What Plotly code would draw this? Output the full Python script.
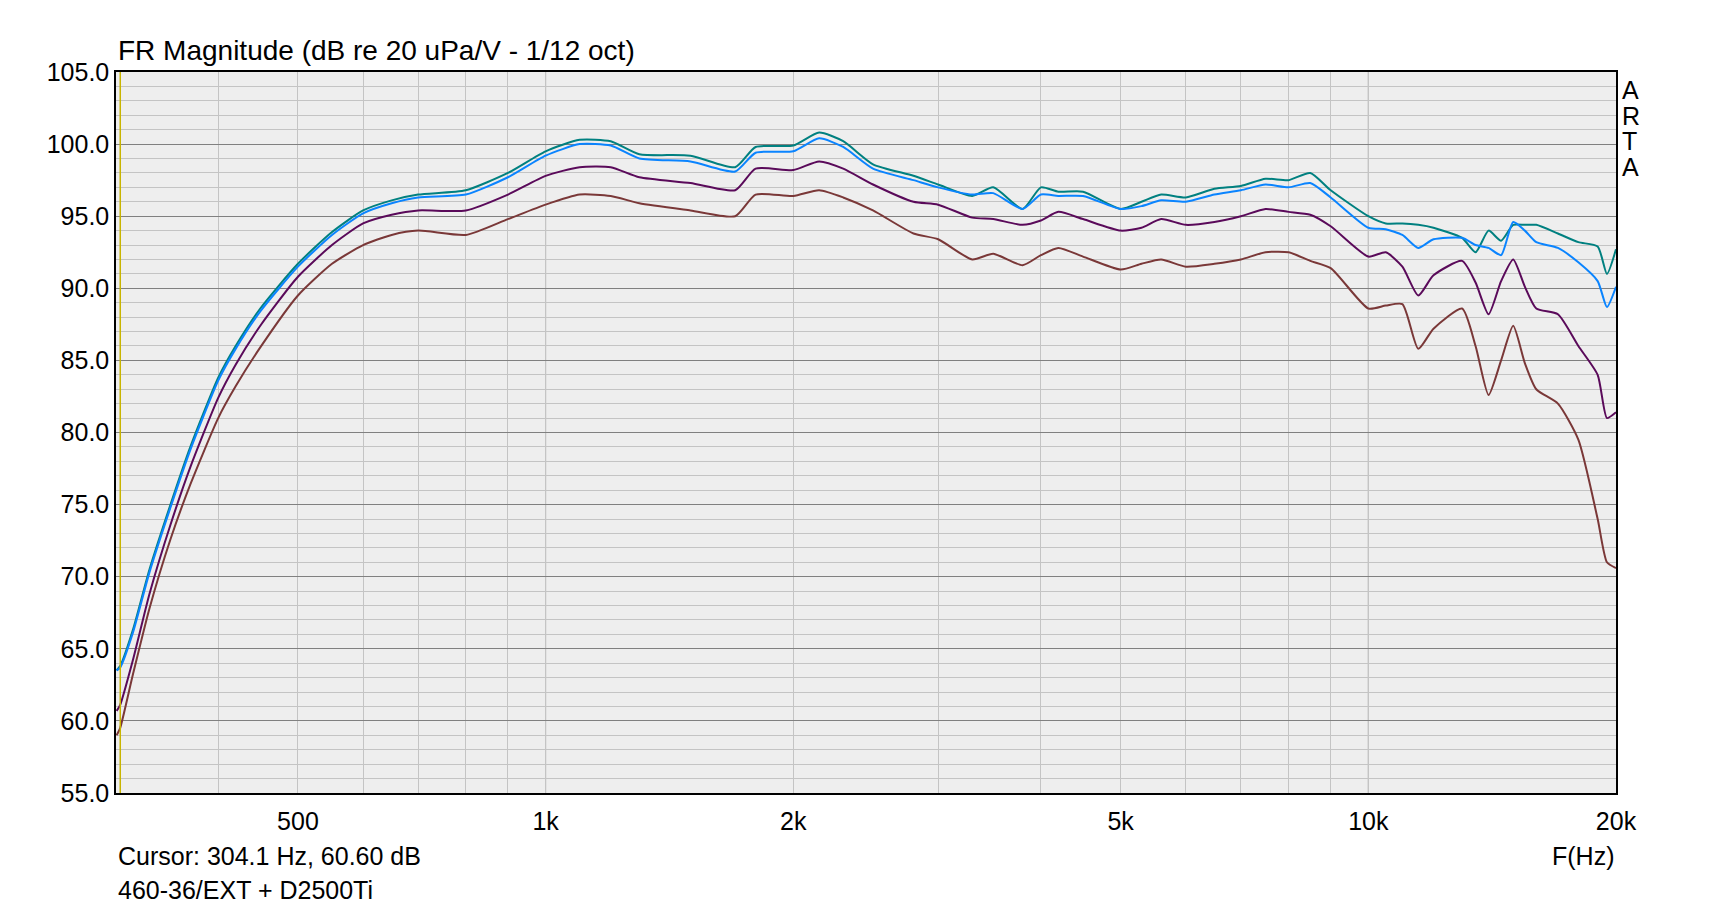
import numpy as np
import plotly.graph_objects as go

freq = [301, 304, 315, 330, 350, 370, 400, 420, 450, 500, 550, 600, 650, 700, 800, 900, 1000, 1100,
        1200, 1300, 1500, 1700, 1800, 2000, 2150, 2300, 2500, 2800, 3000, 3300, 3500, 3800, 4000,
        4200, 4500, 5000, 5300, 5600, 6000, 6500, 7000, 7500, 8000, 8500, 9000, 10000, 10500, 11000,
        11500, 12000, 13000, 13500, 14000, 14500, 15000, 15500, 16000, 17000, 18000, 19000, 19500,
        20000]

teal = [63.5, 63.8, 66.3, 70.5, 75.0, 79.0, 83.8, 86.0, 88.6, 91.7, 93.9, 95.4, 96.1, 96.5, 96.8,
        98.0, 99.5, 100.3, 100.2, 99.3, 99.2, 98.4, 99.8, 99.9, 100.8, 100.2, 98.6, 97.8, 97.2,
        96.4, 97.0, 95.5, 97.0, 96.7, 96.7, 95.5, 96.0, 96.5, 96.3, 96.9, 97.1, 97.6, 97.5, 98.0,
        96.8, 95.0, 94.5, 94.5, 94.4, 94.2, 93.5, 92.5, 94.0, 93.3, 94.4, 94.4, 94.4, 93.8, 93.2,
        92.9, 91.0, 92.7]
blue = [63.5, 63.7, 66.1, 70.3, 74.8, 78.8, 83.6, 85.8, 88.4, 91.5, 93.7, 95.2, 95.9, 96.3, 96.5,
        97.7, 99.2, 100.0, 99.9, 99.0, 98.8, 98.1, 99.4, 99.5, 100.4, 99.8, 98.3, 97.5, 97.0, 96.5,
        96.6, 95.5, 96.5, 96.4, 96.4, 95.5, 95.7, 96.1, 96.0, 96.5, 96.8, 97.2, 97.0, 97.3, 96.3,
        94.2, 94.1, 93.7, 92.8, 93.4, 93.5, 93.0, 92.8, 92.3, 94.6, 94.0, 93.2, 92.8, 91.8, 90.5,
        88.7, 90.1]
purple = [60.7, 61.1, 64.2, 68.8, 73.6, 77.6, 82.4, 84.7, 87.4, 90.8, 93.0, 94.5, 95.1, 95.4, 95.4,
          96.5, 97.8, 98.4, 98.4, 97.7, 97.3, 96.8, 98.3, 98.2, 98.8, 98.3, 97.2, 96.0, 95.8, 94.9,
          94.8, 94.4, 94.7, 95.3, 94.8, 94.0, 94.2, 94.8, 94.4, 94.6, 95.0, 95.5, 95.3, 95.1, 94.3,
          92.2, 92.5, 91.5, 89.5, 90.9, 91.9, 90.4, 88.2, 90.5, 92.0, 90.1, 88.6, 88.2, 86.0, 84.0,
          81.0, 81.4]
brown = [59.0, 59.5, 63.2, 67.8, 72.6, 76.4, 81.0, 83.2, 85.9, 89.5, 91.7, 93.0, 93.7, 94.0, 93.7,
         94.8, 95.8, 96.5, 96.4, 95.9, 95.4, 95.0, 96.5, 96.4, 96.8, 96.3, 95.4, 93.8, 93.4, 92.0,
         92.4, 91.6, 92.3, 92.8, 92.2, 91.3, 91.7, 92.0, 91.5, 91.7, 92.0, 92.5, 92.5, 91.9, 91.4,
         88.6, 88.8, 88.9, 85.8, 87.2, 88.6, 86.0, 82.6, 85.0, 87.4, 84.8, 83.0, 82.0, 79.5, 74.0,
         71.0, 70.6]

series = [("teal", teal, "#008080"), ("blue", blue, "#0a84ff"),
          ("purple", purple, "#5a0a5a"), ("brown", brown, "#7a3838")]

x_grid = [300, 400, 500, 600, 700, 800, 900, 1000, 2000, 3000, 4000, 5000, 6000, 7000, 8000,
          9000, 10000, 20000]
x_labels = {500: "500", 1000: "1k", 2000: "2k", 5000: "5k", 10000: "10k", 20000: "20k"}
cursor_hz = 304.1

fig = go.Figure()
for name, vals, col in series:
    fig.add_trace(go.Scatter(x=freq, y=vals, mode="lines", name=name,
                             line=dict(color=col, width=2, shape="spline", smoothing=0.6)))

fig.add_shape(type="line", x0=cursor_hz, x1=cursor_hz, y0=55, y1=105, xref="x", yref="y",
              line=dict(color="#c8b400", width=1.5))
for f in [1000, 10000]:
    fig.add_shape(type="line", x0=f, x1=f, y0=55, y1=105, xref="x", yref="y",
                  line=dict(color="#808080", width=1), layer="below")

font = dict(family="Liberation Sans, Arial", size=25, color="black")
annots = [
    dict(text="FR Magnitude (dB re 20 uPa/V - 1/12 oct)", x=0, y=1, xref="paper", yref="paper",
         xanchor="left", yanchor="bottom", yshift=4, showarrow=False,
         font=dict(font, size=28)),
    dict(text="F(Hz)", x=1, y=0, xref="paper", yref="paper", xanchor="right", yanchor="top",
         yshift=-47, showarrow=False, font=font),
    dict(text="Cursor: %.1f Hz, 60.60 dB" % cursor_hz, x=0, y=0, xref="paper", yref="paper",
         xanchor="left", yanchor="top", yshift=-47, showarrow=False, font=font),
    dict(text="460-36/EXT + D2500Ti", x=0, y=0, xref="paper", yref="paper",
         xanchor="left", yanchor="top", yshift=-81, showarrow=False, font=font),
]
for i, ch in enumerate("ARTA"):
    annots.append(dict(text=ch, x=1, y=1, xref="paper", yref="paper", xanchor="left",
                       yanchor="top", xshift=4, yshift=-2 - 25.5 * i, showarrow=False, font=font))

fig.update_layout(
    width=1728, height=909, showlegend=False,
    paper_bgcolor="white", plot_bgcolor="#eeeeee",
    margin=dict(l=108, r=120, t=64, b=124),
    font=font,
    xaxis=dict(type="log", range=[np.log10(300.5), np.log10(20000)],
               tickvals=x_grid, ticktext=[x_labels.get(v, "") for v in x_grid],
               showgrid=True, gridcolor="#c4c4c4", gridwidth=1, ticks="", ticklabelstandoff=5,
               showline=True, linecolor="black", linewidth=1.5, mirror=True, zeroline=False),
    yaxis=dict(range=[55, 105], dtick=5, tickformat=".1f", showgrid=True,
               gridcolor="#808080", gridwidth=1, ticks="", ticklen=0,
               minor=dict(dtick=1, showgrid=True, gridcolor="#c4c4c4", gridwidth=1),
               showline=True, linecolor="black", linewidth=1.5, mirror=True, zeroline=False),
    annotations=annots,
)

fig.write_html("out.html")
